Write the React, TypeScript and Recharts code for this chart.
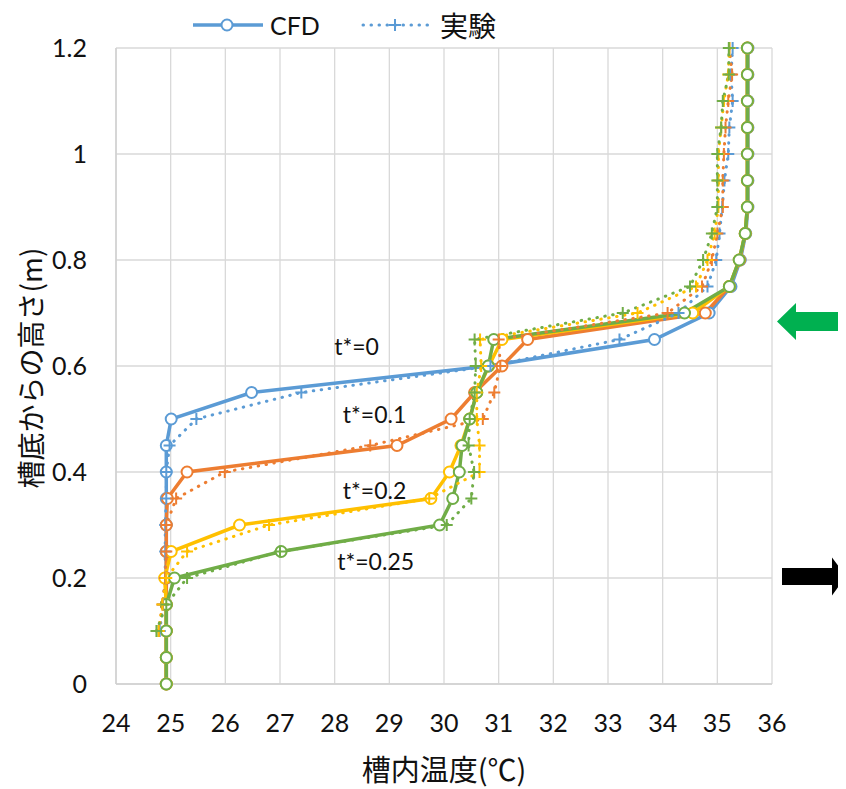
import React from 'react';
import { LineChart, Line, XAxis, YAxis, CartesianGrid, Legend, ReferenceDot } from 'recharts';

// Heights (m)
const HEIGHTS_CFD = [0, 0.05, 0.1, 0.15, 0.2, 0.25, 0.3, 0.35, 0.4, 0.45, 0.5, 0.55, 0.6, 0.65, 0.7, 0.75, 0.8, 0.85, 0.9, 0.95, 1.0, 1.05, 1.1, 1.15, 1.2];
const HEIGHTS_EXP = [0.1, 0.15, 0.2, 0.25, 0.3, 0.35, 0.4, 0.45, 0.5, 0.55, 0.6, 0.65, 0.7, 0.75, 0.8, 0.85, 0.9, 0.95, 1.0, 1.05, 1.1, 1.15, 1.2];

// CFD temperatures (°C)
const CFD_T0 = [24.92, 24.92, 24.92, 24.92, 24.92, 24.92, 24.92, 24.92, 24.92, 24.92, 25.01, 26.48, 30.81, 33.85, 34.85, 35.25, 35.42, 35.52, 35.56, 35.56, 35.56, 35.56, 35.56, 35.56, 35.56];
const CFD_T01 = [24.92, 24.92, 24.92, 24.92, 24.92, 24.92, 24.92, 24.94, 25.3, 29.14, 30.13, 30.56, 31.06, 31.53, 34.78, 35.22, 35.41, 35.51, 35.55, 35.55, 35.55, 35.55, 35.55, 35.55, 35.55];
const CFD_T02 = [24.92, 24.92, 24.92, 24.92, 24.89, 25.01, 26.26, 29.76, 30.1, 30.31, 30.47, 30.6, 30.82, 31.06, 34.55, 35.22, 35.4, 35.51, 35.55, 35.55, 35.55, 35.55, 35.55, 35.55, 35.55];
const CFD_T025 = [24.92, 24.92, 24.92, 24.92, 25.07, 27.02, 29.92, 30.16, 30.28, 30.33, 30.47, 30.6, 30.81, 30.91, 34.4, 35.22, 35.4, 35.51, 35.55, 35.55, 35.55, 35.55, 35.55, 35.55, 35.55];

// Experimental temperatures (°C)
const EXP_T0 = [24.8, 24.86, 24.9, 24.9, 24.9, 24.92, 24.92, 24.98, 25.47, 27.39, 30.85, 33.21, 34.29, 34.82, 34.98, 35.04, 35.09, 35.13, 35.2, 35.22, 35.28, 35.25, 35.28];
const EXP_T01 = [24.78, 24.85, 24.9, 24.92, 24.92, 25.1, 25.99, 28.65, 30.71, 30.92, 31.03, 31.0, 34.09, 34.72, 34.9, 35.0, 35.1, 35.1, 35.12, 35.15, 35.2, 35.27, 35.22];
const EXP_T02 = [24.78, 24.85, 24.92, 25.3, 26.8, 29.73, 30.65, 30.65, 30.6, 30.6, 30.68, 30.66, 33.54, 34.61, 34.82, 34.95, 35.02, 35.02, 35.02, 35.07, 35.12, 35.2, 35.22];
const EXP_T025 = [24.74, 24.92, 25.3, 27.0, 30.05, 30.5, 30.55, 30.45, 30.47, 30.56, 30.58, 30.56, 33.27, 34.5, 34.74, 34.9, 35.0, 35.0, 35.0, 35.07, 35.1, 35.21, 35.21];

const X_TICKS = [24, 25, 26, 27, 28, 29, 30, 31, 32, 33, 34, 35, 36];
const Y_TICKS = [0, 0.2, 0.4, 0.6, 0.8, 1, 1.2];

const ANNOTATIONS = [
  { label: 't*=0', t: 28.4, h: 0.636 },
  { label: 't*=0.1', t: 28.73, h: 0.508 },
  { label: 't*=0.2', t: 28.73, h: 0.365 },
  { label: 't*=0.25', t: 28.75, h: 0.231 },
];

const ARROWS = [
  { kind: 'left', t: 36, h: 0.684, color: '#00B050' },
  { kind: 'right', t: 36, h: 0.203, color: '#000000' },
];

const BLUE = '#5B9BD5';
const ORANGE = '#ED7D31';
const YELLOW = '#FFC000';
const GREEN = '#70AD47';

const zip = (hs: number[], ts: number[]) => hs.map((h, i) => ({ h, t: ts[i] }));

const CFD_SERIES = [
  { name: 'CFD t*=0', color: BLUE, data: zip(HEIGHTS_CFD, CFD_T0) },
  { name: 'CFD t*=0.1', color: ORANGE, data: zip(HEIGHTS_CFD, CFD_T01) },
  { name: 'CFD t*=0.2', color: YELLOW, data: zip(HEIGHTS_CFD, CFD_T02) },
  { name: 'CFD t*=0.25', color: GREEN, data: zip(HEIGHTS_CFD, CFD_T025) },
];
const EXP_SERIES = [
  { name: '実験 t*=0', color: BLUE, data: zip(HEIGHTS_EXP, EXP_T0) },
  { name: '実験 t*=0.1', color: ORANGE, data: zip(HEIGHTS_EXP, EXP_T01) },
  { name: '実験 t*=0.2', color: YELLOW, data: zip(HEIGHTS_EXP, EXP_T02) },
  { name: '実験 t*=0.25', color: GREEN, data: zip(HEIGHTS_EXP, EXP_T025) },
];

const FONT = 'Lato, "Noto Sans CJK JP", sans-serif';
const CJK = '"Noto Sans CJK JP", sans-serif';

const plusDot = (color: string) => (props: any) => {
  const { cx, cy, index } = props;
  if (cx == null || cy == null) return <g key={`e${index}`} />;
  return (
    <path
      key={`p${index}`}
      d={`M${cx - 6},${cy}H${cx + 6}M${cx},${cy - 6}V${cy + 6}`}
      stroke={color}
      strokeWidth={2}
      fill="none"
    />
  );
};

const arrowShape = (kind: string, color: string) => (props: any) => {
  const { cx, cy } = props;
  if (cx == null || cy == null) return <g />;
  let d = '';
  if (kind === 'left') {
    const tip = cx + 5;
    d = `M${tip},${cy} L${tip + 19},${cy - 18.5} L${tip + 19},${cy - 9.5} L${cx + 80},${cy - 9.5} L${cx + 80},${cy + 9.5} L${tip + 19},${cy + 9.5} L${tip + 19},${cy + 18.5} Z`;
  } else {
    const s = cx + 10;
    const b = cx + 60;
    const tip = cx + 74;
    d = `M${s},${cy - 8.5} L${b},${cy - 8.5} L${b},${cy - 19} L${tip},${cy} L${b},${cy + 19} L${b},${cy + 8.5} L${s},${cy + 8.5} Z`;
  }
  return <path d={d} fill={color} stroke="none" />;
};

const LegendContent = () => (
  <svg width={838} height={40} style={{ overflow: 'visible' }}>
    <line x1={185} y1={17} x2={255} y2={17} stroke={BLUE} strokeWidth={3.5} />
    <circle cx={219} cy={17} r={5.5} fill="#fff" stroke={BLUE} strokeWidth={2} />
    <text x={262} y={17} dominantBaseline="central" fontSize={25} fontFamily={FONT} fill="#111">CFD</text>
    <line x1={355} y1={17} x2={424} y2={17} stroke={BLUE} strokeWidth={3} strokeDasharray="0.5 7.5" strokeLinecap="round" />
    <path d={`M${381},17H${393}M${387},11V23`} stroke={BLUE} strokeWidth={2} />
    <text x={432} y={17} dominantBaseline="central" fontSize={28} fontFamily={CJK} fill="#111">実験</text>
  </svg>
);

export default function App() {
  return (
    <div style={{ width: 838, height: 781, position: 'relative', fontFamily: FONT }}>
      <LineChart width={838} height={781} margin={{ top: 40, right: 74, bottom: 0, left: 0 }}>
        <CartesianGrid stroke="#D9D9D9" strokeWidth={1.3} />
        <XAxis
          type="number"
          dataKey="t"
          domain={[24, 36]}
          ticks={X_TICKS}
          allowDataOverflow
          height={105}
          tickSize={0}
          tickMargin={30}
          axisLine={{ stroke: '#D0D0D0', strokeWidth: 1.5 }}
          tickLine={false}
          tick={{ fontSize: 25, fill: '#111', fontFamily: FONT }}
          label={{
            content: () => (
              <text x={436} y={760} textAnchor="middle" dominantBaseline="central" fontSize={29} fontFamily={CJK} fill="#111">
                槽内温度(℃)
              </text>
            ),
          }}
        />
        <YAxis
          type="number"
          domain={[0, 1.2]}
          ticks={Y_TICKS}
          width={108}
          tickSize={0}
          tickMargin={29}
          axisLine={{ stroke: '#D0D0D0', strokeWidth: 1.5 }}
          tickLine={false}
          tick={{ fontSize: 25, fill: '#111', fontFamily: FONT }}
          label={{
            content: () => (
              <text x={22} y={360} transform="rotate(-90 22 360)" textAnchor="middle" dominantBaseline="central" fontSize={28} fontFamily={CJK} fill="#111">
                槽底からの高さ(m)
              </text>
            ),
          }}
        />
        <Legend verticalAlign="middle" align="center" layout="horizontal" wrapperStyle={{ top: 0, left: 0, width: 838, height: 40 }} content={LegendContent} />
        {CFD_SERIES.map((s) => (
          <Line
            key={s.name}
            name={s.name}
            data={s.data}
            dataKey="h"
            stroke={s.color}
            strokeWidth={3.5}
            dot={{ r: 5.5, fill: '#fff', stroke: s.color, strokeWidth: 2 }}
            activeDot={false}
            isAnimationActive={false}
          />
        ))}
        {EXP_SERIES.map((s) => (
          <Line
            key={s.name}
            name={s.name}
            data={s.data}
            dataKey="h"
            stroke={s.color}
            strokeWidth={3}
            strokeDasharray="0.5 7.5"
            strokeLinecap="round"
            dot={plusDot(s.color)}
            activeDot={false}
            isAnimationActive={false}
          />
        ))}
        {ANNOTATIONS.map((a) => (
          <ReferenceDot
            key={a.label}
            x={a.t}
            y={a.h}
            r={0}
            fill="none"
            stroke="none"
            label={{ value: a.label, position: 'center', fontSize: 23, fill: '#111', fontFamily: FONT }}
          />
        ))}
        {ARROWS.map((a) => (
          <ReferenceDot key={a.kind} x={a.t} y={a.h} r={1} ifOverflow="visible" shape={arrowShape(a.kind, a.color)} />
        ))}
      </LineChart>
    </div>
  );
}
